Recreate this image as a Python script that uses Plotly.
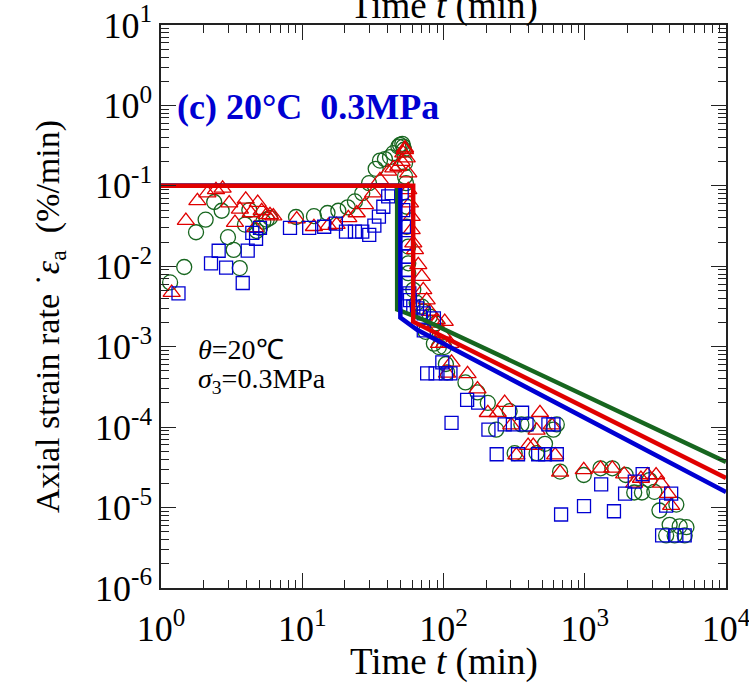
import plotly.graph_objects as go

# ---------------- data ----------------
green_t = [1.16, 1.46, 1.77, 2.07, 2.38, 2.69, 2.98, 3.27, 3.61, 3.93, 4.22, 4.76, 5.02, 5.30, 5.60, 5.91,
           9.03, 12.1, 15.1, 18.0, 21.0, 23.6, 26.6, 29.7, 33.1, 35.5, 38.5, 41.8, 44.1, 47.9, 49.2, 51.1,
           51.9, 52.5, 53.4, 53.4, 54.3, 54.9, 54.9, 56.3, 56.3, 56.3, 61.1, 64.6, 70.4, 71.9, 74.6, 80.2,
           85.5, 87.9, 92.8, 101, 104, 106, 143, 174, 206, 236, 294, 319, 356, 397, 456, 523, 600, 634,
           669, 984, 1294, 1567, 1950, 2240, 2540, 2870, 3110, 3380, 3770, 3990, 4330, 4450, 4700, 5100, 5250]
green_r = [6.3e-3, 9.8e-3, 0.0265, 0.038, 0.063, 0.049, 0.023, 0.016, 9.5e-3, 0.033, 0.050, 0.0275, 0.030,
           0.036, 0.038, 0.040, 0.041, 0.042, 0.046, 0.049, 0.054, 0.064, 0.081, 0.108, 0.163, 0.206, 0.215,
           0.228, 0.255, 0.308, 0.324, 0.333, 0.308, 0.281, 0.191, 0.131, 0.108, 0.055, 0.031, 0.0176,
           0.0109, 8.2e-3, 5.1e-3, 3.5e-3, 3.15e-3, 2.74e-3, 1.53e-3, 2.37e-3, 1.09e-3, 1.95e-3, 9.9e-4,
           9.9e-4, 6.1e-4, 4.8e-4, 3.6e-4, 2.7e-4, 2.0e-4, 9.3e-5, 1.58e-4, 4.75e-5, 1.08e-4, 1.08e-4,
           4.75e-5, 6.2e-5, 9.3e-5, 1.08e-4, 2.8e-5, 2.54e-5, 3.08e-5, 3.08e-5, 2.54e-5, 1.54e-5, 1.54e-5,
           2.2e-5, 1.57e-5, 9.2e-6, 4.5e-6, 6.1e-6, 4.5e-6, 1.09e-5, 5.85e-6, 4.5e-6, 5.7e-6]

red_t = [1.19, 1.50, 1.81, 2.13, 2.45, 2.73, 3.04, 3.34, 3.62, 3.98, 4.32, 4.63, 4.84, 5.16, 5.60, 5.91, 6.24,
         9.14, 12.1, 15.3, 17.5, 21.2, 24.3, 27.8, 31.8, 35.5, 40.6, 44.1, 47.9, 50.6, 51.9, 53.4, 53.4,
         54.9, 56.3, 56.3, 57.9, 59.5, 59.5, 61.1, 62.8, 66.3, 70.1, 71.9, 76.0, 80.2, 87.9, 89.5, 92.9,
         98.1, 101, 102, 106, 112, 114, 148, 174, 206, 242, 271, 302, 328, 397, 432, 456, 482, 583, 617,
         669, 984, 1294, 1567, 1900, 2240, 2500, 2790, 3200, 3470, 3880, 4090]
red_r = [4.7e-3, 0.037, 0.065, 0.081, 0.089, 0.093, 0.061, 0.035, 0.051, 0.068, 0.046, 0.030, 0.062, 0.049,
         0.0435, 0.0435, 0.042, 0.0386, 0.031, 0.032, 0.033, 0.040, 0.046, 0.058, 0.081, 0.119, 0.151,
         0.166, 0.174, 0.200, 0.255, 0.294, 0.281, 0.221, 0.144, 0.089, 0.061, 0.0415, 0.0284, 0.0194,
         0.016, 0.0104, 7.45e-3, 5.1e-3, 3.8e-3, 2.74e-3, 1.95e-3, 2.15e-3, 1.09e-3, 1.46e-3, 1.09e-3,
         2.05e-3, 4.67e-4, 1.09e-3, 6.4e-4, 4.6e-4, 2.97e-4, 1.51e-4, 1.51e-4, 2.02e-4, 1.06e-4, 4.5e-5,
         5.9e-5, 5.9e-5, 9.1e-5, 1.51e-4, 1.06e-4, 4.5e-5, 2.74e-5, 2.94e-5, 3.08e-5, 3.08e-5, 2.6e-5,
         2.0e-5, 2.3e-5, 2.54e-5, 2.54e-5, 2.0e-5, 1.49e-5, 1.06e-5]

blue_t = [1.33, 2.26, 2.56, 2.89, 3.79, 4.11, 4.43, 4.71, 5.02, 8.19, 11.2, 14.3, 17.3, 20.4, 23.6, 26.6,
          29.8, 32.4, 34.9, 37.5, 40.6, 43.0, 50.6, 51.9, 52.5, 53.4, 54.3, 54.9, 56.3, 57.3, 57.9, 61.1,
          64.9, 68.2, 72.5, 72.5, 76.6, 85.5, 87.9, 98.1, 104, 112, 114, 147, 176, 208, 238, 271, 310, 337,
          360, 387, 468, 523, 553, 600, 634, 680, 988, 1307, 1610, 1930, 2260, 2570, 3530, 3770, 4090,
          4450, 5100]
blue_r = [4.6e-3, 0.0109, 0.0156, 9.6e-3, 6.2e-3, 0.0157, 0.026, 0.022, 0.030, 0.030, 0.030, 0.031, 0.034,
          0.027, 0.027, 0.027, 0.0246, 0.032, 0.0415, 0.055, 0.074, 0.081, 0.081, 0.050, 0.031, 0.0194,
          0.0132, 9.0e-3, 6.2e-3, 4.6e-3, 3.8e-3, 3.15e-3, 3.0e-3, 2.37e-3, 2.6e-3, 1.6e-3, 4.67e-4,
          2.25e-3, 4.67e-4, 6.4e-4, 4.67e-4, 4.67e-4, 1.13e-4, 2.18e-4, 2.02e-4, 9.3e-5, 4.6e-5, 1.08e-4,
          1.08e-4, 4.6e-5, 1.51e-4, 1.08e-4, 4.6e-5, 4.6e-5, 1.08e-4, 1.08e-4, 4.6e-5, 8.2e-6, 1.04e-5,
          1.94e-5, 9.0e-6, 1.49e-5, 2.1e-5, 2.6e-5, 4.5e-6, 1.06e-5, 1.49e-5, 4.5e-6, 4.5e-6]

# model lines
green_line_t = [1, 47, 47, 73, 10000]
green_line_r = [0.1, 0.1, 2.9e-3, 2.15e-3, 3.7e-5]
blue_line_t = [1, 49.5, 49.5, 65, 10000]
blue_line_r = [0.1, 0.1, 2.3e-3, 1.62e-3, 1.56e-5]
red_line_t = [1, 61, 61, 10000]
red_line_r = [0.1, 0.1, 2.05e-3, 2.33e-5]

# tick labels
x_tickvals = [1, 10, 100, 1000, 10000]
x_ticktext = ["10<sup>0</sup>", "10<sup>1</sup>", "10<sup>2</sup>", "10<sup>3</sup>", "10<sup>4</sup>"]
y_tickvals = [1e-6, 1e-5, 1e-4, 1e-3, 1e-2, 1e-1, 1, 10]
y_ticktext = ["10<sup>-6</sup>", "10<sup>-5</sup>", "10<sup>-4</sup>", "10<sup>-3</sup>",
              "10<sup>-2</sup>", "10<sup>-1</sup>", "10<sup>0</sup>", "10<sup>1</sup>"]

GREEN = "#17661f"
RED = "#e00000"
BLUE = "#0000d2"
SERIF = "Liberation Serif, Times New Roman, serif"

fig = go.Figure()
fig.add_trace(go.Scatter(x=green_t, y=green_r, mode="markers",
                         marker=dict(symbol="circle-open", size=15, color=GREEN, line=dict(width=1.3, color=GREEN))))
fig.add_trace(go.Scatter(x=red_t, y=red_r, mode="markers",
                         marker=dict(symbol="triangle-up-open", size=15, color=RED, line=dict(width=1.3, color=RED))))
fig.add_trace(go.Scatter(x=blue_t, y=blue_r, mode="markers",
                         marker=dict(symbol="square-open", size=13, color=BLUE, line=dict(width=1.3, color=BLUE))))
fig.add_trace(go.Scatter(x=green_line_t, y=green_line_r, mode="lines", line=dict(color=GREEN, width=4.5)))
fig.add_trace(go.Scatter(x=blue_line_t, y=blue_line_r, mode="lines", line=dict(color=BLUE, width=4.5)))
fig.add_trace(go.Scatter(x=red_line_t, y=red_line_r, mode="lines", line=dict(color=RED, width=4.5)))
# invisible trace so the mirrored (top / right) tick axes get drawn
fig.add_trace(go.Scatter(x=[1], y=[1], xaxis="x2", yaxis="y2", mode="markers",
                         marker=dict(size=1, opacity=0), hoverinfo="skip"))

tick_common = dict(
    type="log", showgrid=False, zeroline=False, automargin=False,
    ticks="inside", ticklen=15, tickwidth=1.2, tickcolor="#222",
    minor=dict(ticks="inside", ticklen=8, tickwidth=1.2, tickcolor="#222", dtick="D1", showgrid=False),
)
fig.update_layout(
    xaxis=dict(range=[0, 4], tickvals=x_tickvals, ticktext=x_ticktext,
               showline=True, linecolor="#222", linewidth=1.5, mirror=True,
               ticklabeloverflow="allow", ticklabelstandoff=8,
               tickfont=dict(family=SERIF, size=36, color="black"), **tick_common),
    yaxis=dict(range=[-6, 1], tickvals=y_tickvals, ticktext=y_ticktext,
               showline=True, linecolor="#222", linewidth=1.5, mirror=True,
               ticklabeloverflow="allow",
               tickfont=dict(family=SERIF, size=36, color="black"), **tick_common),
    xaxis2=dict(range=[0, 4], overlaying="x", side="top", anchor="y2", tickvals=x_tickvals,
                showticklabels=False, showline=False, **tick_common),
    yaxis2=dict(range=[-6, 1], overlaying="y", side="right", anchor="x2", tickvals=y_tickvals,
                showticklabels=False, showline=False, **tick_common),
)

fig.update_layout(
    width=749, height=685, showlegend=False,
    paper_bgcolor="white", plot_bgcolor="white",
    margin=dict(l=161, r=23, t=25, b=97),
    annotations=[
        dict(text="Time <i>t</i> (min)", xref="paper", yref="paper", x=0.5, y=-0.131,
             xanchor="center", yanchor="middle", showarrow=False,
             font=dict(family=SERIF, size=37, color="black")),
        dict(text="Time <i>t</i> (min)", xref="paper", yref="paper", x=0.5, y=1.034,
             xanchor="center", yanchor="middle", showarrow=False,
             font=dict(family=SERIF, size=37, color="black")),
        dict(text="Axial strain rate ˙<i>ε</i><sub>a</sub>  (%/min)", xref="paper", yref="paper",
             x=-0.1965, y=0.483, xanchor="center", yanchor="middle", textangle=-90, showarrow=False,
             font=dict(family=SERIF, size=34, color="black")),
        dict(text="<b>(c) 20°C  0.3MPa</b>", xref="paper", yref="paper", x=0.025, y=0.854,
             xanchor="left", yanchor="middle", showarrow=False,
             font=dict(family=SERIF, size=36, color=BLUE)),
        dict(text="<i>θ</i>=20℃", xref="paper", yref="paper", x=0.062, y=0.4245,
             xanchor="left", yanchor="middle", showarrow=False,
             font=dict(family=SERIF, size=28, color="black")),
        dict(text="<i>σ</i><sub>3</sub>=0.3MPa", xref="paper", yref="paper", x=0.062, y=0.368,
             xanchor="left", yanchor="middle", showarrow=False,
             font=dict(family=SERIF, size=28, color="black")),
    ],
)

# remove the default 8 px page margin so the figure sits at the window's top-left corner
fig.write_html("out.html", config={"displayModeBar": False},
               post_script="document.body.style.margin='0px';")
